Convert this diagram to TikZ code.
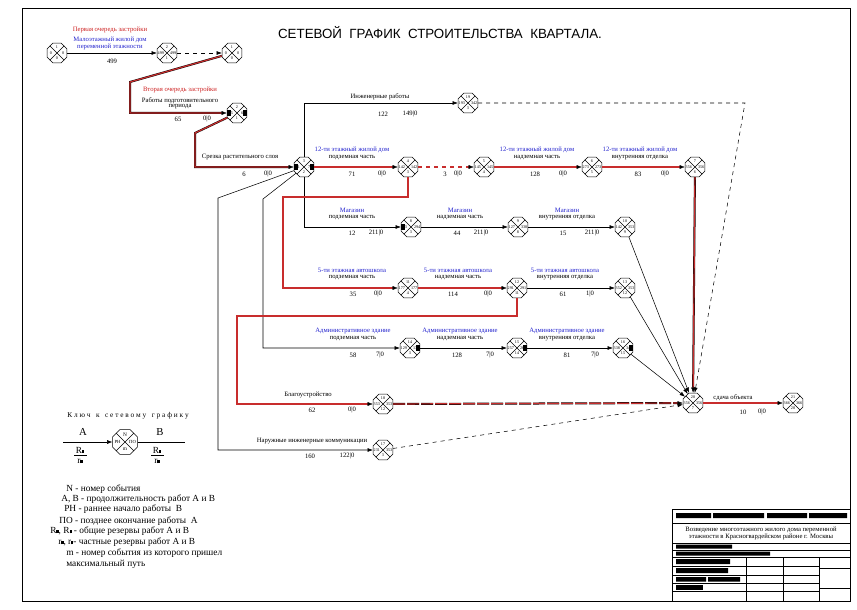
\documentclass[tikz,border=0pt]{standalone}
\usepackage{fontspec}
\setmainfont{Liberation Serif}
\newfontfamily\titlefont{Liberation Sans}
\usetikzlibrary{shapes.geometric}
\usetikzlibrary{arrows.meta, calc}

\definecolor{objblue}{RGB}{35,35,205}
\definecolor{stagered}{RGB}{205,35,35}
\definecolor{critred}{RGB}{200,45,45}

\newcommand{\blksq}{\rule{1.6pt}{2.2pt}}

% event: name, position, N, left, right, m
\newcommand{\evt}[6]{%
  \node (#1) at (#2) [event] {};
  \draw (#1.45) -- (#1.225) (#1.135) -- (#1.315);
  \path (#1) ++(0,-5.6) node [num] {#3};
  \path (#1) ++(-6.2,0) node [num] {#4};
  \path (#1) ++(6.2,0) node [num] {#5};
  \path (#1) ++(0,5.6) node [num] {#6};
}

\begin{document}
\begin{tikzpicture}
  [
    x=0.75pt, y=-0.75pt,
    >={Latex[length=4pt,width=3pt]},
    event/.style  = {draw, regular polygon, regular polygon sides=8, minimum size=16pt, inner sep=0pt, fill=white},
    num/.style    = {font=\fontsize{3.1}{3.4}\selectfont, inner sep=0pt},
    work/.style   = {font=\fontsize{5}{6}\selectfont, inner sep=0pt},
    obj/.style    = {work, text=objblue},
    stage/.style  = {work, text=stagered},
    crit/.style   = {draw=black, double=critred, double distance=0.9pt, line width=0.3pt},
    sqmark/.style = {fill=black, minimum width=3pt, minimum height=4pt, inner sep=0pt},
    legend/.style = {font=\fontsize{7}{8}\selectfont, inner sep=0pt, anchor=west},
  ]

  \useasboundingbox (0,0) rectangle (857,610);
  \draw (22,8) rectangle (850,601);

  \node (title) at (440,33) [font=\titlefont\fontsize{10}{12}\selectfont] {СЕТЕВОЙ\ \ ГРАФИК\ \ СТРОИТЕЛЬСТВА\ \ КВАРТАЛА.};

  % first stage
  \evt{q1}{57,53}{1}{0}{0}{0}
  \evt{q2}{167,53}{2}{499}{499}{1}
  \evt{q3}{232,53}{1}{0}{0}{0}

  \node at (110,30) [stage] {Первая очередь застройки};
  \node at (110,40) [obj] {Малоэтажный жилой дом};
  \node at (110,47) [obj] {переменной этажности};
  \draw[->] (q1) -- node (d1) [work, pos=0.5, yshift=-6pt] {499} (q2);
  \draw[->, dashed] (q2) -- (q3);

  % second stage: events
  \evt{e2}{237,113}{2}{65}{65}{1}
  \evt{e3}{304,167}{3}{71}{71}{2}
  \evt{e4}{408,167}{4}{142}{142}{3}
  \evt{e5}{484,167}{5}{145}{145}{4}
  \evt{e6}{592,167}{6}{273}{273}{5}
  \evt{e7}{695,167}{7}{356}{356}{6}
  \evt{e8}{411,227}{8}{83}{294}{3}
  \evt{e9}{518,227}{9}{127}{338}{8}
  \evt{e10}{625,227}{10}{142}{353}{9}
  \evt{e11}{408,288}{11}{177}{177}{4}
  \evt{e12}{517,288}{12}{291}{291}{11}
  \evt{e13}{625,288}{13}{352}{353}{12}
  \evt{e14}{410,348}{14}{129}{136}{3}
  \evt{e15}{517,348}{15}{257}{264}{14}
  \evt{e16}{623,348}{16}{338}{345}{15}
  \evt{e17}{383,450}{17}{231}{353}{3}
  \evt{e18}{383,404}{18}{353}{353}{12}
  \evt{e19}{468,103}{19}{193}{342}{3}
  \evt{e20}{693,403}{20}{356}{356}{7}
  \evt{e21}{793,403}{21}{366}{366}{20}

  % critical marks
  \node at (e2.west) [sqmark, anchor=west] {};
  \node at (e2.east) [sqmark, anchor=east] {};
  \node at (e3.west) [sqmark, anchor=west] {};
  \node at (e3.east) [sqmark, anchor=east] {};
  \node at (e8.west) [sqmark, anchor=west] {};
  \node at (e14.east) [sqmark, anchor=east] {};
  \node at (e15.east) [sqmark, anchor=east] {};
  \node at (e16.east) [sqmark, anchor=east] {};

  % preparation
  \draw[crit, ->] (q3) -- (130,82) |- (e2);
  \node at (180,90) [stage] {Вторая очередь застройки};
  \node at (180,101) [work] {Работы подготовительного};
  \node at (180,107) [work] {периода};
  \node at (178,119) [work] {65};
  \node at (207,119) [work] {0|0};

  \draw[crit, ->] (e2) -- (195,133) |- (e3);
  \node at (240,157) [work] {Срезка растительного слоя};
  \node at (244,174) [work] {6};
  \node at (268,174) [work] {0|0};

  % engineering works
  \draw[->] (e3) |- (e19);
  \node at (380,97) [work] {Инженерные работы};
  \node at (383,114) [work] {122};
  \node at (410,114) [work] {149|0};
  \draw[->, dashed] (e19) -- (745,103) -- (e20);

  % 12-storey house
  \draw[crit, ->] (e3) -- (e4);
  \node at (352,150) [obj] {12-ти этажный жилой дом};
  \node at (352,158) [work] {подземная часть};
  \node at (352,174) [work] {71};
  \node at (382,174) [work] {0|0};

  \draw[crit, dashed, ->] (e4) -- (e5);
  \node at (445,174) [work] {3};
  \node at (458,174) [work] {0|0};

  \draw[crit, ->] (e5) -- (e6);
  \node at (537,150) [obj] {12-ти этажный жилой дом};
  \node at (537,158) [work] {надземная часть};
  \node at (535,174) [work] {128};
  \node at (563,174) [work] {0|0};

  \draw[crit, ->] (e6) -- (e7);
  \node at (640,150) [obj] {12-ти этажный жилой дом};
  \node at (640,158) [work] {внутренняя отделка};
  \node at (638,174) [work] {83};
  \node at (665,174) [work] {0|0};

  \draw[crit, ->] (e7) -- (e20);

  % shop
  \draw[->] (e3) |- (e8);
  \node at (352,210) [obj] {Магазин};
  \node at (352,218) [work] {подземная часть};
  \node at (352,233) [work] {12};
  \node at (376,233) [work] {211|0};

  \draw[->] (e8) -- (e9);
  \node at (460,210) [obj] {Магазин};
  \node at (460,218) [work] {надземная часть};
  \node at (457,233) [work] {44};
  \node at (481,233) [work] {211|0};

  \draw[->] (e9) -- (e10);
  \node at (567,210) [obj] {Магазин};
  \node at (567,218) [work] {внутренняя отделка};
  \node at (563,233) [work] {15};
  \node at (592,233) [work] {211|0};

  \draw[->] (e10) -- (e20);

  % driving school
  \draw[crit, ->] (e4) |- (283,197) |- (e11);
  \node at (352,270) [obj] {5-ти этажная автошкола};
  \node at (352,278) [work] {подземная часть};
  \node at (353,294) [work] {35};
  \node at (378,294) [work] {0|0};

  \draw[crit, ->] (e11) -- (e12);
  \node at (458,270) [obj] {5-ти этажная автошкола};
  \node at (458,278) [work] {надземная часть};
  \node at (453,294) [work] {114};
  \node at (488,294) [work] {0|0};

  \draw[->] (e12) -- (e13);
  \node at (565,270) [obj] {5-ти этажная автошкола};
  \node at (565,278) [work] {внутренняя отделка};
  \node at (563,294) [work] {61};
  \node at (590,294) [work] {1|0};

  \draw[->] (e13) -- (e20);

  % administration building
  \draw[->] (e3) -- (263,199) |- (e14);
  \node at (353,331) [obj] {Административное здание};
  \node at (353,339) [work] {подземная часть};
  \node at (353,355) [work] {58};
  \node at (380,355) [work] {7|0};

  \draw[->] (e14) -- (e15);
  \node at (460,331) [obj] {Административное здание};
  \node at (460,339) [work] {надземная часть};
  \node at (457,355) [work] {128};
  \node at (490,355) [work] {7|0};

  \draw[->] (e15) -- (e16);
  \node at (567,331) [obj] {Административное здание};
  \node at (567,339) [work] {внутренняя отделка};
  \node at (567,355) [work] {81};
  \node at (595,355) [work] {7|0};

  \draw[->] (e16) -- (e20);

  % landscaping
  \draw[crit, ->] (e12) |- (237,316) |- (e18);
  \node at (308,395) [work] {Благоустройство};
  \node at (312,410) [work] {62};
  \node at (352,410) [work] {0|0};
  \draw[crit, dash pattern=on 9pt off 1.5pt, ->] (e18) -- (e20);

  % outer utilities
  \draw[->] (e3) -- (218,198) |- (e17);
  \node at (312,441) [work] {Наружные инженерные коммуникации};
  \node at (310,456) [work] {160};
  \node at (347,456) [work] {122|0};
  \draw[->, dashed] (e17) -- (e20);

  % handover
  \draw[crit, ->] (e20) -- (e21);
  \node at (733,398) [work] {сдача объекта};
  \node at (743,412) [work] {10};
  \node at (762,412) [work] {0|0};

  % key to the network
  \node (keytitle) at (128,416) [font=\fontsize{5.5}{6}\selectfont] {К л ю ч\ \ \ к\ \ \ с е т е в о м у\ \ \ г р а ф и к у};
  \node (key) at (125,442) [event, minimum size=20pt] {};
  \draw (key.45) -- (key.225) (key.135) -- (key.315);
  \path (key) ++(0,-7) node [num, font=\fontsize{4}{4}\selectfont] {N};
  \path (key) ++(-7.5,0) node [num, font=\fontsize{3.5}{4}\selectfont] {РН};
  \path (key) ++(7.5,0) node [num, font=\fontsize{3.5}{4}\selectfont] {ПО};
  \path (key) ++(0,7) node [num, font=\fontsize{4}{4}\selectfont] {m};
  \coordinate (keyin) at (63,442);
  \coordinate (keyout) at (185,442);
  \draw[->] (keyin) -- (key);
  \draw (key) -- (keyout);
  \node at (83,432) [font=\fontsize{8}{9}\selectfont] {A};
  \node at (160,432) [font=\fontsize{8}{9}\selectfont] {B};
  \node (ra) at (80,450) [font=\fontsize{7}{8}\selectfont, inner sep=0pt] {R\blksq};
  \node (rra) at (80,461) [font=\fontsize{7}{8}\selectfont, inner sep=0pt] {r\blksq};
  \draw (74,455) -- (87,455);
  \node (rb) at (157,450) [font=\fontsize{7}{8}\selectfont, inner sep=0pt] {R\blksq};
  \node (rrb) at (157,461) [font=\fontsize{7}{8}\selectfont, inner sep=0pt] {r\blksq};
  \draw (151,455) -- (164,455);

  \node at (66,489) [legend] {N - номер события};
  \node at (61,499) [legend] {А, В - продолжительность работ А и В};
  \node at (64,509) [legend] {РН - раннее\ начало работы\ \ В};
  \node at (59,521) [legend] {ПО - позднее окончание работы\ \ А};
  \node at (50,531) [legend] {R\blksq, R\blksq\ - общие резервы работ А и В};
  \node at (58,542) [legend] {r\blksq, r\blksq - частные резервы работ А и В};
  \node at (66,553) [legend] {m - номер события из которого пришел};
  \node at (66,564) [legend] {максимальный путь};

  % title block
  \draw (672,509) -- (850,509) (672,509) -- (672,601);
  \foreach \yy in {523,543,550,557} \draw (672,\yy) -- (850,\yy);
  \foreach \yy in {566,575,583,591} \draw (672,\yy) -- (819,\yy);
  \foreach \xx in {746,783,819} \draw (\xx,557) -- (\xx,601);
  \draw (819,568) -- (850,568) (819,588) -- (850,588);
  \fill (676,513) rectangle (711,518) (713,513) rectangle (764,518)
        (767,513) rectangle (807,518) (809,513) rectangle (847,518);
  \fill (676,544.5) rectangle (732,548.5) (676,551.5) rectangle (770,555.5);
  \fill (676,559) rectangle (730,564) (676,568) rectangle (728,573);
  \fill (676,577) rectangle (706,581.5) (708,577) rectangle (740,581.5);
  \fill (676,585) rectangle (703,589.5);
  \node at (761,530) [work] {Возведение многоэтажного жилого дома переменной};
  \node at (761,537) [work] {этажности в Красногвардейском районе г. Москвы};
\end{tikzpicture}
\end{document}
